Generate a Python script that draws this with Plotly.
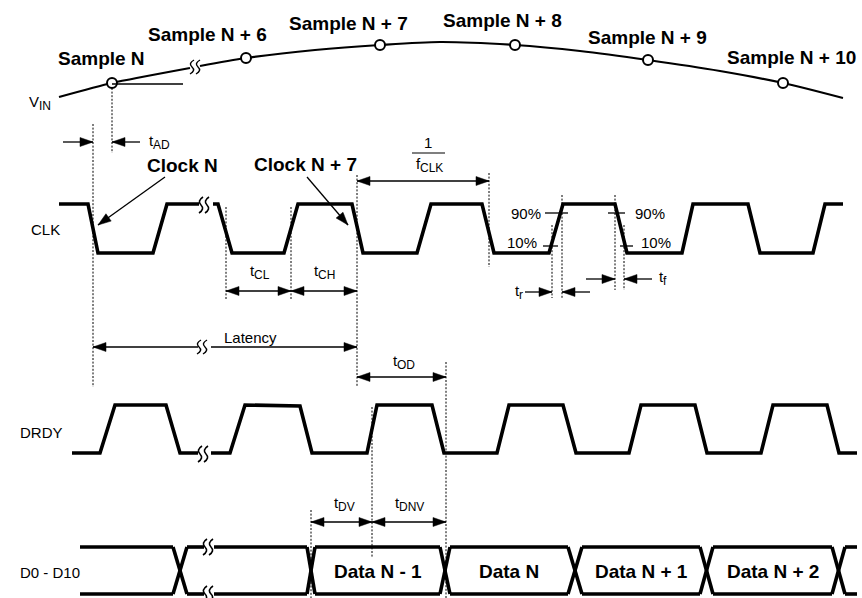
import plotly.graph_objects as go

W, H = 862, 598
FONT = "Liberation Sans, Arial, sans-serif"

# ---------------- data ----------------
# analog input (VIN) curve, split by the time break
vin_x_a = [59, 112, 190]
vin_y_a = [97, 83, 68]
vin_x_b = [200, 246, 315, 380, 440, 515, 580, 648, 720, 783, 843]
vin_y_b = [66, 58, 50, 45, 42, 45, 51, 60, 71, 83, 98]
sample_x = [112, 246, 380, 515, 648, 783]
sample_y = [83, 58, 45, 45, 60, 83]
sample_labels = ["Sample N", "Sample N + 6", "Sample N + 7",
                 "Sample N + 8", "Sample N + 9", "Sample N + 10"]

# CLK waveform vertices (None = time break)
clk_x = [59, 88, 98, 153, 167, 199, None, 213, 218, 232, 284, 298, 352, 363, 417,
         431, 482, 494, 549, 563, 615, 627, 682, 693, 748, 760, 813, 825, 843]
clk_y = [204, 204, 253, 253, 204, 204, None, 204, 204, 253, 253, 204, 204, 253, 253,
         204, 204, 253, 253, 204, 204, 253, 253, 204, 204, 253, 253, 204, 204]

# DRDY waveform vertices
drdy_x = [72, 100, 115, 166, 180, 198, None, 211, 230, 245, 300, 312, 367, 377, 432,
          444, 497, 509, 563, 576, 629, 641, 695, 707, 761, 773, 827, 839, 857]
drdy_y = [453, 453, 405, 405, 453, 453, None, 453, 453, 405, 406, 453, 453, 405, 405,
          453, 453, 405, 405, 453, 453, 405, 405, 453, 453, 405, 405, 453, 453]

# data bus: start, transitions (begin, end), end
bus_start, bus_end = 80, 857
bus_top, bus_bot = 547, 594
bus_trans = [(173, 187), (307, 315), (440, 450), (568, 582), (700, 713), (832, 845)]
bus_labels = ["", "", "Data N - 1", "Data N", "Data N + 1", "Data N + 2", ""]
bus_break = (204, 214)

# ---------------- figure ----------------
fig = go.Figure()
shapes = []
annos = []

# Arial/Liberation Sans advance widths (per 1000 em) for subscript layout
ADV = {"t": 278, "f": 278, "V": 667, "A": 667, "D": 722, "C": 722, "L": 556,
       "K": 667, "H": 722, "O": 778, "N": 722, "I": 278, "r": 333}

def tw(s, size):
    return sum(ADV.get(c, 556) for c in s) * size / 1000.0

def line(x0, y0, x1, y1, w=1.3, dash=None):
    d = dict(type="line", x0=x0, y0=y0, x1=x1, y1=y1, xref="x", yref="y",
             line=dict(color="black", width=w))
    if dash:
        d["line"]["dash"] = dash
    shapes.append(d)

def head(hx, hy, tx, ty, L=13, hw=4.5):
    dx, dy = hx - tx, hy - ty
    n = (dx * dx + dy * dy) ** 0.5
    ux, uy = dx / n, dy / n
    bx, by = hx - ux * L, hy - uy * L
    px, py = -uy, ux
    path = (f"M{hx},{hy} L{bx + px * hw},{by + py * hw} "
            f"L{bx - px * hw},{by - py * hw} Z")
    shapes.append(dict(type="path", path=path, xref="x", yref="y",
                       fillcolor="black", line=dict(color="black", width=0.5)))

def arrow(x0, y0, x1, y1, both=False):
    line(x0, y0, x1, y1, 1.3)
    head(x1, y1, x0, y0)
    if both:
        head(x0, y0, x1, y1)

def vdot(x, y0, y1):
    line(x, y0, x, y1, 1, "2px,1.6px")

def squiggle(x, y, h=8, w=1.6):
    for off in (0, 6):
        xx = x + off
        path = (f"M{xx + 2},{y - h} Q{xx - 4},{y - h / 2} {xx},{y} "
                f"Q{xx + 4},{y + h / 2} {xx - 2},{y + h}")
        shapes.append(dict(type="path", path=path, xref="x", yref="y",
                           line=dict(color="black", width=w)))

def text(x, y, s, size=15, bold=False, xa="center"):
    annos.append(dict(x=x, y=y, text=s, showarrow=False, xref="x", yref="y",
                      xanchor=xa, yanchor="middle",
                      font=dict(family=FONT, size=size, color="black",
                                weight="bold" if bold else "normal")))

def subtext(x, y, main, sub, xa="left", size=15, ssize=12):
    wm, ws = tw(main, size), tw(sub, ssize)
    total = wm + ws
    if xa == "left":
        left = x
    elif xa == "right":
        left = x - total
    else:
        left = x - total / 2
    text(left, y, main, size, xa="left")
    text(left + wm, y + 5, sub, ssize, xa="left")

# VIN
fig.add_trace(go.Scatter(x=vin_x_a, y=vin_y_a, mode="lines", line=dict(color="black", width=2.2, shape="spline", smoothing=0.6), hoverinfo="skip"))
fig.add_trace(go.Scatter(x=vin_x_b, y=vin_y_b, mode="lines", line=dict(color="black", width=2.2, shape="spline", smoothing=0.8), hoverinfo="skip"))
fig.add_trace(go.Scatter(x=sample_x, y=sample_y, mode="markers",
                         marker=dict(size=10, color="white", line=dict(color="black", width=2)),
                         hoverinfo="skip"))
squiggle(192, 67, 7, 1.4)
line(112, 84, 183, 84, 1.3)
label_pos = [(101, 58), (207, 34), (348, 23), (502, 20), (647, 37), (791, 57)]
for (lx, ly), s in zip(label_pos, sample_labels):
    text(lx, ly, s, 19, True)
subtext(27, 101, "V", "IN")

# CLK
fig.add_trace(go.Scatter(x=clk_x, y=clk_y, mode="lines", line=dict(color="black", width=3.6),
                         connectgaps=False, hoverinfo="skip"))
squiggle(201, 205)
text(29, 229, "CLK", 15, xa="left")

# DRDY
fig.add_trace(go.Scatter(x=drdy_x, y=drdy_y, mode="lines", line=dict(color="black", width=3.6),
                         connectgaps=False, hoverinfo="skip"))
squiggle(200, 454)
text(18, 432, "DRDY", 15, xa="left")

# data bus
bx, by = [], []
edges = [bus_start] + [v for t in bus_trans for v in t] + [bus_end]
for i in range(0, len(edges), 2):
    a, b = edges[i], edges[i + 1]
    for yy in (bus_top, bus_bot):
        if a < bus_break[0] < b:
            bx += [a, bus_break[0], None, bus_break[1], b, None]
            by += [yy, yy, None, yy, yy, None]
        else:
            bx += [a, b, None]
            by += [yy, yy, None]
for a, b in bus_trans:
    bx += [a, b, None, a, b, None]
    by += [bus_top, bus_bot, None, bus_bot, bus_top, None]
fig.add_trace(go.Scatter(x=bx, y=by, mode="lines", line=dict(color="black", width=3.6),
                         connectgaps=False, hoverinfo="skip"))
squiggle(205, bus_top)
squiggle(205, bus_bot)
for i, s in enumerate(bus_labels):
    if s:
        a, b = edges[2 * i], edges[2 * i + 1]
        text((a + b) / 2, (bus_top + bus_bot) / 2 + 1, s, 19, True)
text(18, 572, "D0 - D10", 15, xa="left")

# dotted reference lines
for x, y0, y1 in [(93, 124, 387), (112, 88, 153), (226, 207, 300), (291, 207, 300),
                  (357, 175, 387), (489, 173, 267), (552, 225, 298), (562, 195, 298),
                  (615, 195, 290), (624, 225, 290), (446, 362, 598), (372, 407, 557),
                  (311, 510, 598)]:
    vdot(x, y0, y1)

# arrows
arrow(63, 142, 93, 142)
arrow(140, 142, 112, 142)
subtext(147, 140, "t", "AD")
arrow(165, 177, 98, 225)
text(182, 165, "Clock N", 19, True)
arrow(307, 177, 348, 225)
text(305, 164, "Clock N + 7", 19, True)
arrow(357, 181, 489, 181, both=True)
text(428, 142, "1", 15)
line(412, 153, 445, 153, 1.2)
subtext(428, 163, "f", "CLK", xa="center")
arrow(226, 291, 291, 291, both=True)
arrow(291, 291, 357, 291, both=True)
subtext(258, 270, "t", "CL", xa="center")
subtext(323, 270, "t", "CH", xa="center")

# rise / fall markers
line(545, 213, 568, 213, 1.3)
line(543, 246, 558, 246, 1.3)
line(608, 213, 625, 213, 1.3)
line(620, 246, 633, 246, 1.3)
text(543, 213, "90%", 15, xa="right")
text(539, 242, "10%", 15, xa="right")
text(633, 213, "90%", 15, xa="left")
text(639, 242, "10%", 15, xa="left")
arrow(525, 292, 552, 292)
arrow(590, 292, 562, 292)
subtext(521, 290, "t", "r", xa="right")
arrow(586, 279, 615, 279)
arrow(652, 279, 624, 279)
subtext(657, 276, "t", "f", xa="left")

# latency / output delay
arrow(198, 347, 93, 347)
arrow(211, 347, 357, 347)
squiggle(199, 347, 7, 1.4)
text(250, 337, "Latency", 15)
arrow(357, 377, 446, 377, both=True)
subtext(402, 360, "t", "OD", xa="center")
arrow(311, 522, 372, 522, both=True)
arrow(372, 522, 446, 522, both=True)
subtext(342, 502, "t", "DV", xa="center")
subtext(408, 502, "t", "DNV", xa="center")

fig.update_layout(
    width=W, height=H, margin=dict(l=0, r=0, t=0, b=0),
    paper_bgcolor="white", plot_bgcolor="white", showlegend=False,
    xaxis=dict(range=[0, W], visible=False, fixedrange=True),
    yaxis=dict(range=[H, 0], visible=False, fixedrange=True),
    shapes=shapes, annotations=annos,
)
fig.write_html("out.html", config={"displayModeBar": False},
               post_script="document.body.style.margin='0';document.body.style.overflow='hidden';")
